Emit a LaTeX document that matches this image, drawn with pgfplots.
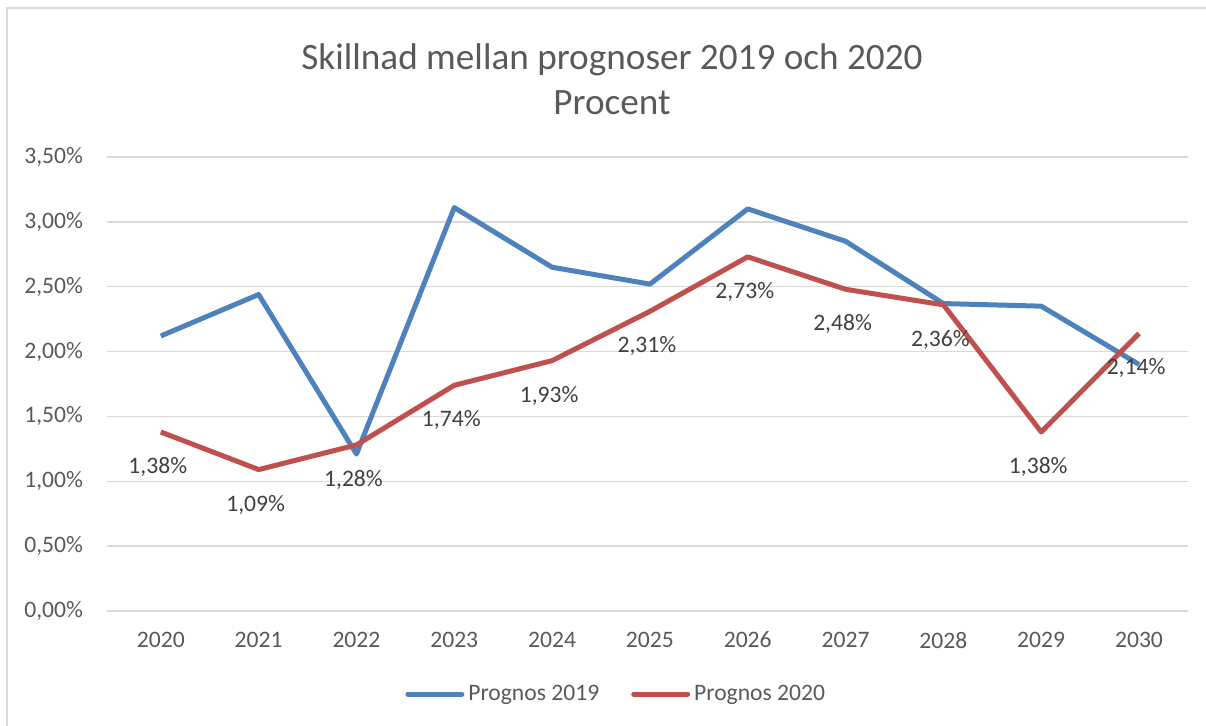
\documentclass[border=0pt]{standalone}
\usepackage{pgfplots}
\pgfplotsset{compat=1.18}
\usepackage{fontspec}
\setmainfont{Carlito}
\definecolor{cblue}{HTML}{4F81BD}
\definecolor{cred}{HTML}{C0504D}
\definecolor{cgrid}{HTML}{D9D9D9}
\definecolor{ctick}{HTML}{595959}
\definecolor{clab}{HTML}{404040}
\begin{document}
\begin{tikzpicture}[x=1pt,y=1pt]
\path[use as bounding box] (0,0) rectangle (603,363);
\draw[cgrid,line width=0.75pt] (3.5,-1) -- (3.5,359) -- (604,359);
\node[text=ctick,font=\fontsize{18.6}{22}\selectfont] at (306,333) {Skillnad mellan prognoser 2019 och 2020};
\node[text=ctick,font=\fontsize{18.6}{22}\selectfont] at (306,311.5) {Procent};
\begin{axis}[
  scale only axis,
  width=540.5pt, height=227pt,
  at={(53.5pt,57.5pt)}, anchor=south west,
  xmin=2019.45, xmax=2030.5,
  ymin=0, ymax=3.5,
  xtick={2020,...,2030},
  ytick={0,0.5,...,3.5},
  /pgf/number format/assume math mode=true,
  xticklabel={\pgfmathprintnumber[1000 sep={},assume math mode=true]{\tick}},
  yticklabel={\pgfmathprintnumber[fixed,fixed zerofill,precision=2,use comma,assume math mode=true]{\tick}\%},
  tick label style={text=ctick,font=\fontsize{11.8}{13}\selectfont},
  yticklabel style={xshift=-8.5pt},
  xticklabel style={yshift=-7pt},
  major tick length=0pt,
  axis line style={draw=none},
  ymajorgrids, grid style={cgrid,line width=0.75pt},
  clip=false,
  legend columns=2,
  legend style={at={(0.472,-0.183)},anchor=center,draw=none,fill=none,
    font=\fontsize{11.8}{13}\selectfont,text=ctick,
    /tikz/every even column/.append style={column sep=14pt}},
  legend image code/.code={\draw[#1,line cap=round] (0pt,0pt) -- (27pt,0pt);},
]
\addplot[cblue,line width=2.5pt,line join=round] coordinates {
(2020,2.12) (2021,2.44) (2022,1.21) (2023,3.11) (2024,2.65) (2025,2.52)
(2026,3.10) (2027,2.85) (2028,2.37) (2029,2.35) (2030,1.90)};
\addlegendentry{Prognos 2019}
\addplot[cred,line width=2.5pt,line join=round,
  nodes near coords={\pgfmathprintnumber[fixed,fixed zerofill,precision=2,use comma,assume math mode=true]{\pgfplotspointmeta}\%},
  every node near coord/.style={anchor=center,yshift=-17.5pt,xshift=-1.5pt,text=clab,font=\fontsize{11.8}{13}\selectfont}]
coordinates {
(2020,1.38) (2021,1.09) (2022,1.28) (2023,1.74) (2024,1.93) (2025,2.31)
(2026,2.73) (2027,2.48) (2028,2.36) (2029,1.38) (2030,2.14)};
\addlegendentry{Prognos 2020}
\end{axis}
\end{tikzpicture}
\end{document}
